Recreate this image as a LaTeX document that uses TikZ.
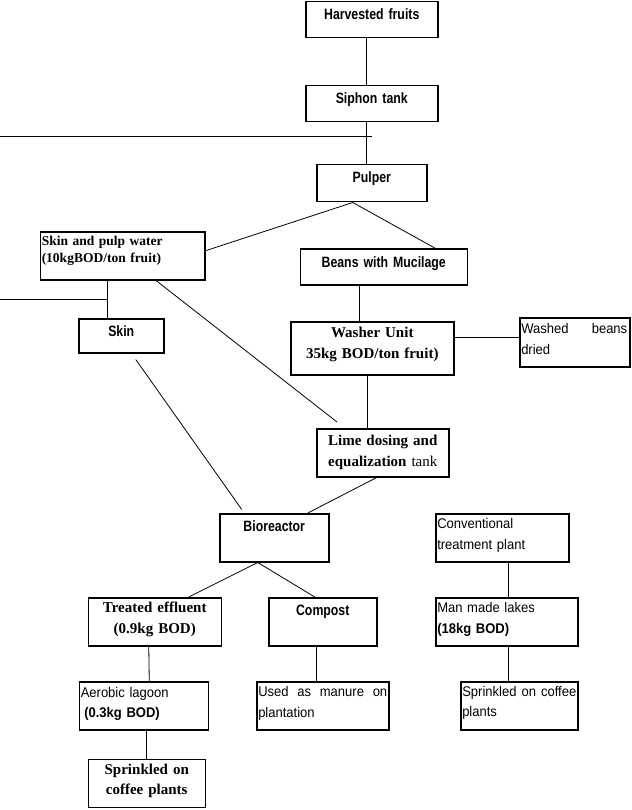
\documentclass[tikz,border=0pt]{standalone}
\usepackage{fontspec}
\setmainfont{Liberation Serif}
\newfontfamily\narrowsans[FakeStretch=0.82]{Liberation Sans}
\newfontfamily\plainsans[FakeStretch=0.93]{Liberation Sans}
\usepackage{tikz}

\begin{document}
\begin{tikzpicture}[x=1pt,y=-1pt,
    box/.style={draw, line width=1.5pt, anchor=north west, inner xsep=1.5pt, inner ysep=0pt},
    link/.style={line width=0.8pt},
    hd/.style={font=\narrowsans\bfseries\fontsize{15}{17}\selectfont, align=center},
    tb/.style={font=\bfseries\fontsize{15}{20.7}\selectfont, align=center},
    note/.style={font=\plainsans\fontsize{14}{20.7}\selectfont, align=left}]
        \useasboundingbox (0,0) rectangle (631,810);
        % main line
        \node[box,hd,text width=129pt,text height=17.5pt,text depth=18.5pt] (harv) at (305,1) {Harvested fruits};
        \node[box,hd,text width=129pt,text height=17.5pt,text depth=18.5pt] (siph) at (305,85) {Siphon tank};
        \node[box,hd,text width=107pt,text height=17.5pt,text depth=19.5pt] (pulp) at (316,164) {Pulper};
        \node[box,font=\bfseries\fontsize{13.5}{17.4}\selectfont,align=left,text width=161.5pt,text height=13.6pt,text depth=34.4pt] (skp) at (39.5,231) {Skin and pulp water\\(10kgBOD/ton fruit)};
        \node[box,hd,text width=164pt,text height=18.5pt,text depth=17.5pt] (beans) at (299.5,248) {Beans with Mucilage};
        \node[box,hd,text width=82pt,text height=17.5pt,text depth=16.5pt] (skin) at (78,318) {Skin};
        \node[box,tb,text width=160pt,text height=16pt,text depth=37pt] (washer) at (290,321) {Washer Unit\\35kg BOD/ton fruit)};
        \node[box,note,text width=107pt,text height=16pt,text depth=33pt] (washed) at (519,317) {\hbox to 106pt{Washed\hfill beans}\\dried};
        \node[box,tb,text width=129pt,text height=17pt,text depth=31pt] (lime) at (316,428) {Lime dosing and\\equalization \textmd{tank}};
        \node[box,hd,text width=106pt,text height=17.5pt,text depth=30.5pt] (bio) at (219,513) {Bioreactor};
        \node[box,note,text width=130pt,text height=15pt,text depth=33pt] (conv) at (435,513) {Conventional\\treatment plant};
        % outputs
        \node[box,tb,text width=130pt,text height=15pt,text depth=33pt] (treat) at (87.5,597) {Treated effluent\\(0.9kg BOD)};
        \node[box,hd,text width=105pt,text height=17.5pt,text depth=30.5pt] (comp) at (268,597) {Compost};
        \node[box,note,text width=139pt,text height=15pt,text depth=33pt] (lakes) at (435,597) {Man made lakes\\\textbf{(18kg BOD)}};
        \node[box,note,text width=126pt,text height=15.3pt,text depth=32.7pt] (aero) at (78.5,681) {Aerobic lagoon\\\hspace{3.5pt}\textbf{(0.3kg BOD)}};
        \node[box,note,text width=129pt,text height=15pt,text depth=33pt] (manure) at (256,681) {\hbox to 129pt{Used\hfill as\hfill manure\hfill on}\\plantation};
        \node[box,note,text width=114pt,text height=14.5pt,text depth=33.5pt] (spr2) at (460,681) {\hbox to 114pt{Sprinkled\hfill on\hfill coffee}\\plants};
        \node[box,tb,text width=114pt,text height=15pt,text depth=33pt] (spr1) at (87.5,758.5) {Sprinkled on\\coffee plants};
        % free lines
        \coordinate (cutl) at (0,136);
        \coordinate (cutr) at (372,136);
        \coordinate (skl) at (0,299);
        \coordinate (skr) at (107,299);
        \draw[link] (cutl) -- (cutr);
        \draw[link] (skl) -- (skr);
        % connectors
        \draw[link] ([xshift=-5pt]harv.south) -- ([xshift=-5pt]siph.north);
        \draw[link] ([xshift=-5pt]siph.south) -- ([xshift=-5pt]pulp.north);
        \draw[link] ([xshift=-19pt]pulp.south) -- ([yshift=5pt]skp.east);
        \draw[link] ([xshift=-19pt]pulp.south) -- ([xshift=51pt]beans.north);
        \draw[link] ([xshift=-24pt]beans.south) -- ([xshift=-12.5pt]washer.north);
        \draw[link] ([yshift=10.5pt]washer.east) -- ([yshift=4.5pt]washed.west);
        \draw[link] ([xshift=-4.5pt]washer.south) -- ([xshift=-15pt]lime.north);
        \draw[link] ([xshift=33.5pt]skp.south) -- ([xshift=21pt,yshift=6pt]lime.north west);
        \draw[link] ([xshift=-14.75pt]skp.south) -- ([xshift=-13.5pt]skin.north);
        \draw[link] ([xshift=14.5pt,yshift=-6pt]skin.south) -- ([xshift=-32.5pt,yshift=3.5pt]bio.north);
        \draw[link] ([xshift=-6pt]lime.south) -- ([xshift=33.5pt]bio.north);
        \draw[link] ([xshift=-16.5pt]bio.south) -- ([xshift=34pt]treat.north);
        \draw[link] ([xshift=-16.5pt]bio.south) -- ([xshift=-8pt]comp.north);
        \draw[link] ([xshift=-6pt]treat.south) -- ([xshift=5.5pt]aero.north);
        \draw[link] ([xshift=-6pt]comp.south) -- ([xshift=-6pt]manure.north);
        \draw[link] ([xshift=3pt]aero.south) -- (spr1.north);
        \draw[link] ([xshift=6.5pt]conv.south) -- ([xshift=2pt]lakes.north);
        \draw[link] ([xshift=2pt]lakes.south) -- ([xshift=-10.5pt]spr2.north);
\end{tikzpicture}
\end{document}
